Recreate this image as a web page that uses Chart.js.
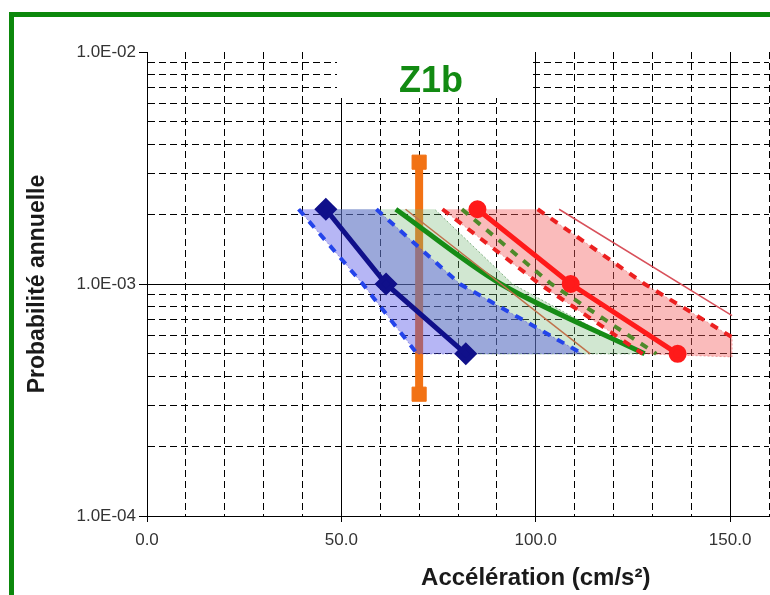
<!DOCTYPE html>
<html>
<head>
<meta charset="utf-8">
<title>Z1b</title>
<script src="https://cdn.jsdelivr.net/npm/chart.js@4.4.1/dist/chart.umd.min.js"></script>
<style>
  html, body { margin: 0; padding: 0; background: #fff; overflow: hidden; }
  #frame { position: absolute; left: 9px; top: 12px; right: 0; bottom: 0;
           border-left: 5px solid #0c880c; border-top: 5px solid #0c880c; }
  #chart { position: absolute; left: 0; top: 0; }
</style>
</head>
<body>
<div id="frame"></div>
<canvas id="chart" width="770" height="595"></canvas>
<script>
// axes
const xTickValues = [0, 50, 100, 150];
const xTickLabels = ['0.0', '50.0', '100.0', '150.0'];
const yTickValues = [1e-4, 1e-3, 1e-2];
const yTickLabels = ['1.0E-04', '1.0E-03', '1.0E-02'];
const yTitle = 'Probabilité annuelle';
const xTitle = 'Accélération (cm/s²)';
const chartTitle = 'Z1b';

// blue zone
const blueX = [46, 61.5, 82];
const blueY = [2.1e-3, 1.0e-3, 5.0e-4];
const blueLowX = [39, 55.5, 69.5];
const blueLowY = [2.1e-3, 1.0e-3, 5.0e-4];
const blueHighX = [59, 80.5, 112];
const blueHighY = [2.1e-3, 1.0e-3, 5.0e-4];

// green zone
const greenX = [64, 91, 128];
const greenY = [2.1e-3, 1.0e-3, 5.0e-4];
const greenEdgeX = [74, 94, 127];
const greenEdgeY = [2.1e-3, 1.0e-3, 5.0e-4];
const oliveX = [81, 104, 131];
const oliveY = [2.1e-3, 1.0e-3, 5.0e-4];
const brownX = [66.5, 114];
const brownY = [2.1e-3, 5.0e-4];

// red zone
const redX = [85, 109, 136.5];
const redY = [2.1e-3, 1.0e-3, 5.0e-4];
const redLowX = [76, 101, 127.5];
const redLowY = [2.1e-3, 1.0e-3, 5.0e-4];
const redHighX = [100.5, 128, 150.5];
const redHighY = [2.1e-3, 1.0e-3, 5.9e-4];
const redCornerX = [150.5];
const redCornerY = [4.85e-4];
const redThinX = [106, 150.5];
const redThinY = [2.1e-3, 7.3e-4];

// orange bar
const barX = [70, 70];
const barY = [3.35e-3, 3.35e-4];

const pts = (xs, ys) => xs.map((x, i) => ({ x: x, y: ys[i] }));
const CLEAR = 'rgba(0,0,0,0)';

function same(a, b) { return Math.abs(Math.log10(a) - Math.log10(b)) < 1e-6; }
function intMantissa(v) {
  const m = v / Math.pow(10, Math.floor(Math.log10(v) + 1e-9));
  return Math.abs(m - Math.round(m)) < 1e-6;
}
function yIndex(v) { return yTickValues.findIndex(t => same(t, v)); }
function xIndex(v) { return xTickValues.findIndex(t => Math.abs(t - v) < 1e-9); }

// polygons for the shaded bands
const blueBand = pts(blueLowX, blueLowY).concat(pts(blueHighX, blueHighY).reverse());
const greenBand = pts(blueX, blueY).concat(pts(greenEdgeX, greenEdgeY).reverse());
const redBand = pts(redLowX, redLowY)
  .concat(pts(redCornerX, redCornerY))
  .concat(pts(redHighX, redHighY).reverse());

const decor = {
  id: 'decor',
  beforeDatasetsDraw(chart) {
    // blank patch behind the title, as in the source picture
    const ctx = chart.ctx;
    ctx.save();
    ctx.fillStyle = '#fff';
    ctx.fillRect(337, 50, 196, 48);
    ctx.restore();
  },
  afterDraw(chart) {
    const ctx = chart.ctx;
    const x = chart.scales.x;
    ctx.save();
    ctx.fillStyle = '#128a12';
    ctx.font = "bold 36px 'Liberation Sans', Arial, sans-serif";
    ctx.textAlign = 'center';
    ctx.textBaseline = 'alphabetic';
    ctx.fillText(chartTitle, 431, 92);
    ctx.fillStyle = '#1a1a1a';
    ctx.font = "bold 24px 'Liberation Sans', Arial, sans-serif";
    ctx.textBaseline = 'middle';
    ctx.fillText(xTitle, x.getPixelForValue(100), 578);
    ctx.restore();
  }
};

Chart.defaults.font.family = "'Liberation Sans', Arial, sans-serif";

new Chart(document.getElementById('chart'), {
  type: 'line',
  data: {
    datasets: [
      { data: pts(blueX, blueY), borderColor: '#10108a', backgroundColor: '#10108a',
        borderWidth: 5, pointStyle: 'rectRot', pointRadius: 8 },
      { data: pts(redX, redY), borderColor: '#ff1a1a', backgroundColor: '#ff1a1a',
        borderWidth: 5, pointRadius: 6.5 },
      { data: pts(redThinX, redThinY), borderColor: '#d8505a', borderWidth: 1.5, pointRadius: 0 },
      { data: pts(redLowX, redLowY), borderColor: '#ec2020', borderWidth: 4,
        borderDash: [8, 8], pointRadius: 0 },
      { data: pts(redHighX, redHighY), borderColor: '#ec2020', borderWidth: 4,
        borderDash: [8, 8], pointRadius: 0 },
      { data: pts(oliveX, oliveY), borderColor: '#4f8a2a', borderWidth: 4,
        borderDash: [8, 8], pointRadius: 0 },
      { data: pts(brownX, brownY), borderColor: '#c0704a', borderWidth: 1.5, pointRadius: 0 },
      { data: pts(greenX, greenY), borderColor: '#168c16', borderWidth: 5,
        pointRadius: 0, tension: 0.3 },
      { data: pts(blueLowX, blueLowY), borderColor: '#2444ea', borderWidth: 4,
        borderDash: [8, 8], pointRadius: 0 },
      { data: pts(blueHighX, blueHighY), borderColor: '#2444ea', borderWidth: 4,
        borderDash: [8, 8], pointRadius: 0 },
      { data: blueBand, fill: 'shape', backgroundColor: 'rgba(80,80,232,0.42)',
        borderColor: 'rgba(70,70,210,0.5)', borderWidth: 1, borderDash: [2, 2], pointRadius: 0 },
      { data: redBand, fill: 'shape', backgroundColor: 'rgba(242,92,92,0.42)',
        borderColor: 'rgba(230,90,90,0.5)', borderWidth: 1, borderDash: [2, 2], pointRadius: 0 },
      { data: greenBand, fill: 'shape', backgroundColor: 'rgba(120,186,120,0.34)',
        borderColor: 'rgba(90,150,90,0.7)', borderWidth: 1, borderDash: [2, 2], pointRadius: 0 },
      { data: pts(barX, barY), borderColor: '#f27214', backgroundColor: '#f27214',
        borderWidth: 8, pointStyle: 'rect', pointRadius: 10, pointBorderWidth: 1 }
    ]
  },
  options: {
    responsive: false,
    animation: false,
    events: [],
    layout: { autoPadding: false, padding: { top: 52, right: 1, left: 0, bottom: 0 } },
    plugins: { legend: { display: false }, tooltip: { enabled: false } },
    scales: {
      x: {
        type: 'linear', min: 0, max: 160, position: 'bottom',
        afterFit: s => { s.height = 79; s.paddingLeft = 0; s.paddingRight = 0; },
        ticks: {
          stepSize: 10, autoSkip: false, maxRotation: 0, padding: 8,
          color: '#333', font: { size: 17 },
          callback: v => { const i = xIndex(v); return i >= 0 ? xTickLabels[i] : ''; }
        },
        grid: {
          color: c => c.tick ? '#000' : CLEAR,
          lineWidth: 1, tickLength: 6,
          tickColor: c => c.tick && xIndex(c.tick.value) >= 0 ? '#000' : CLEAR
        },
        border: { display: true, color: '#000', width: 1, dash: [7, 4] }
      },
      x2: {
        type: 'linear', min: 0, max: 160, position: 'bottom',
        afterFit: s => { s.height = 0; s.paddingLeft = 0; s.paddingRight = 0; },
        ticks: { stepSize: 50, display: false },
        grid: {
          drawTicks: false, lineWidth: 1,
          color: c => c.tick && c.tick.value > 0 && xIndex(c.tick.value) >= 0 ? '#000' : CLEAR
        },
        border: { display: false }
      },
      y: {
        type: 'logarithmic', min: 1e-4, max: 1e-2, position: 'left',
        afterFit: s => { s.width = 147; },
        ticks: {
          autoSkip: false, padding: 3, color: '#333', font: { size: 17 },
          callback: v => { const i = yIndex(v); return i >= 0 ? yTickLabels[i] : ''; }
        },
        grid: {
          lineWidth: 1, tickLength: 8,
          color: c => {
            if (!c.tick) return CLEAR;
            const v = c.tick.value;
            if (same(v, 1e-2)) return CLEAR;
            return intMantissa(v) ? '#000' : CLEAR;
          },
          tickColor: c => c.tick && yIndex(c.tick.value) >= 0 ? '#000' : CLEAR
        },
        border: { display: true, color: '#000', width: 1, dash: [7, 4] },
        title: {
          display: true, text: yTitle, color: '#1a1a1a',
          font: { size: 23, weight: 'bold' }, padding: { top: 24, bottom: 0 }
        }
      },
      y2: {
        type: 'logarithmic', min: 1e-4, max: 1e-2, position: 'left',
        afterFit: s => { s.width = 0; },
        ticks: { display: false, autoSkip: false },
        grid: {
          drawTicks: false, lineWidth: 1,
          color: c => c.tick && same(c.tick.value, 1e-3) ? '#000' : CLEAR
        },
        border: { display: false }
      }
    }
  },
  plugins: [decor]
});
</script>
</body>
</html>
